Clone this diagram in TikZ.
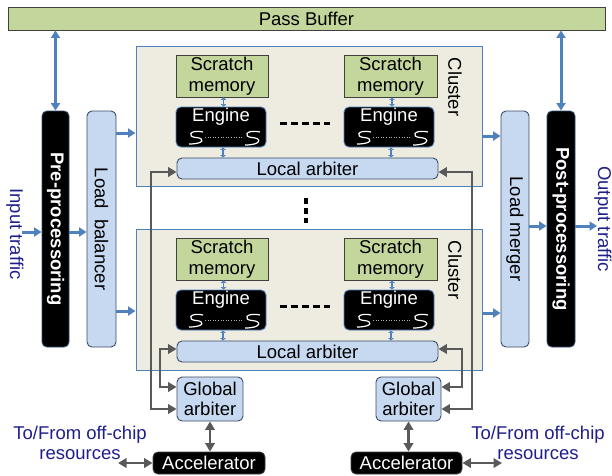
\documentclass[tikz,border=0pt]{standalone}
\usepackage{fontspec}
\usepackage{graphicx}
\setmainfont{Liberation Sans}
\usetikzlibrary{arrows.meta,calc}
\definecolor{gfill}{HTML}{C3D69B}
\definecolor{bfill}{HTML}{C6D9F1}
\definecolor{cfill}{HTML}{EEECE1}
\definecolor{bline}{HTML}{4F81BD}
\definecolor{gline}{HTML}{595959}
\definecolor{navy}{HTML}{1F1F8C}
\definecolor{edge}{HTML}{404040}
\definecolor{bedge}{HTML}{3C4B64}
\newcommand\enginesquig[1]{%
  \begin{scope}[shift={(#1)}]
    \draw[white, line width=1.2pt] (-18,5) .. controls (-32,2) and (-34,10) .. (-25,10.5) .. controls (-16,11) and (-16,17) .. (-32,17);
    \draw[white!70!black, line width=0.6pt, dotted] (-16,10.5) -- (23,10.5);
    \draw[white, line width=1.2pt] (39,5) .. controls (24,2) and (22,10) .. (31,10.5) .. controls (41,11) and (41,18) .. (24,18);
  \end{scope}}
\begin{document}
\begin{tikzpicture}[x=1pt,y=-1pt,
  font=\fontsize{18.5}{20.5}\selectfont,
  sized/.style 2 args={minimum width=#1pt, minimum height=#2pt},
  greenbox/.style={draw=edge, fill=gfill, line width=0.9pt, inner sep=0pt, align=center},
  bluebox/.style={draw=bedge, fill=bfill, rounded corners=5pt, line width=0.9pt, inner sep=0pt, align=center},
  blackbox/.style={draw=bline!60!black, fill=black, text=white, rounded corners=5pt, line width=0.9pt, inner sep=0pt, align=center},
  enginebox/.style={blackbox, draw=bline, text height=14pt, text depth=26pt},
  clusterbox/.style={draw=bline, fill=cfill, line width=1pt, inner sep=0pt},
  labeltext/.style={text=navy, align=center, inner sep=0pt},
  barrow/.style={draw=bline, line width=3pt, -{Triangle[length=7.5pt,width=9pt]}},
  bdarrow/.style={draw=bline, line width=3pt, {Triangle[length=7.5pt,width=9pt]}-{Triangle[length=7.5pt,width=9pt]}},
  sarrow/.style={draw=bline, line width=1.6pt, {Triangle[length=2.5pt,width=5.5pt]}-{Triangle[length=2.5pt,width=5.5pt]}},
  garrow/.style={draw=gline, line width=2.8pt, {Triangle[length=8.5pt,width=9.5pt]}-{Triangle[length=8.5pt,width=9.5pt]}}
]
\useasboundingbox (0,0) rectangle (612,475);

% top buffer
\node[greenbox, sized={597}{23}] (pass) at (306.5,18.5) {Pass Buffer};

% side columns
\node[blackbox, sized={27}{236}] (pre) at (55.5,229) {\rotatebox{-90}{\bfseries Pre-processoring}};
\node[bluebox, sized={29}{236}] (lb) at (101.5,229) {\rotatebox{-90}{Load\ \ balancer}};
\node[bluebox, sized={28}{236}] (lm) at (515,229) {\rotatebox{-90}{Load merger}};
\node[blackbox, sized={28}{236}] (post) at (561,229) {\rotatebox{-90}{\bfseries Post-processoring}};

% clusters
\node[clusterbox, sized={346}{140}] (cl1) at (309,116) {};
\node[clusterbox, sized={346}{141}] (cl2) at (309,299.5) {};
\node (cll1) at ($(cl1)+(146,-29)$) {\rotatebox{-90}{Cluster}};
\node (cll2) at ($(cl2)+(146,-29.5)$) {\rotatebox{-90}{Cluster}};

% cluster 1 content
\node[greenbox, sized={92}{42}] (sm11) at (222,76) {Scratch\\memory};
\node[greenbox, sized={93}{42}] (sm12) at (390.5,76) {Scratch\\memory};
\node[enginebox, sized={90}{40}] (en11) at (221,127) {Engine};
\node[enginebox, sized={90}{40}] (en12) at (389,127) {Engine};
\node[bluebox, sized={261}{21}] (la1) at (307.5,168.5) {Local arbiter};

% cluster 2 content
\node[greenbox, sized={92}{42}] (sm21) at (222,259) {Scratch\\memory};
\node[greenbox, sized={93}{42}] (sm22) at (390.5,259) {Scratch\\memory};
\node[enginebox, sized={90}{40}] (en21) at (221,310) {Engine};
\node[enginebox, sized={90}{40}] (en22) at (389,310) {Engine};
\node[bluebox, sized={261}{21}] (la2) at (307.5,351.5) {Local arbiter};

\enginesquig{en11}
\enginesquig{en12}
\enginesquig{en21}
\enginesquig{en22}

% dashes between engines
\draw[line width=3pt, dash pattern=on 6.6pt off 4.25pt] ($(en11.east)+(14,-4)$) -- ($(en12.west)+(-14,-4)$);
\draw[line width=3pt, dash pattern=on 6.6pt off 4.25pt] ($(en21.east)+(14,-4)$) -- ($(en22.west)+(-14,-4)$);
% vertical dots between clusters
\draw[line width=3.5pt, dash pattern=on 6pt off 4pt] ($(cl1.south)+(-3,11)$) -- ($(cl2.north)+(-3,-6)$);

% global arbiters and accelerators
\node[bluebox, sized={66}{44}] (ga1) at (210,399) {Global\\arbiter};
\node[bluebox, sized={65}{44}] (ga2) at (408.5,399) {Global\\arbiter};
\node[blackbox, draw=edge, sized={112}{22}] (acc1) at (209,463) {Accelerator};
\node[blackbox, draw=edge, sized={111}{22}] (acc2) at (406.5,463) {Accelerator};

% side texts
\node[labeltext] (intext) at (15,234) {\rotatebox{-90}{Input traffic}};
\node[labeltext] (outtext) at (603,219) {\rotatebox{-90}{Output traffic}};
\node[labeltext] (offl) at (80,443) {To/From off-chip\\resources};
\node[labeltext] (offr) at (538,443) {To/From off-chip\\resources};
\coordinate (in) at (22,232);
\coordinate (out) at (597,226);
\coordinate (offlc) at (118,463);
\coordinate (offrc) at (502,463);

% blue arrows
\draw[bdarrow] (pass.south -| pre.north) -- (pre.north);
\draw[bdarrow] (pass.south -| post.north) -- (post.north);
\draw[barrow] (in) -- (in -| pre.west);
\draw[barrow] (pre.east |- in) -- (lb.west |- in);
\draw[barrow] (lb.east |- 0,133) -- (cl1.west |- 0,133);
\draw[barrow] (lb.east |- 0,311) -- (cl2.west |- 0,311);
\draw[barrow] (cl1.east |- 0,136) -- (lm.west |- 0,136);
\draw[barrow] (cl2.east |- 0,313) -- (lm.west |- 0,313);
\draw[barrow] (lm.east |- out) -- (post.west |- out);
\draw[barrow] (post.east |- out) -- (out);

% small arrows inside clusters
\foreach \s/\e/\l in {sm11/en11/la1, sm12/en12/la1, sm21/en21/la2, sm22/en22/la2}{
  \draw[sarrow] ([xshift=1.5pt]\s.south) -- ([xshift=1.5pt]\s.south |- \e.north);
  \draw[sarrow] ([xshift=2pt]\e.south) -- ([xshift=2pt]\e.south |- \l.north);
}

% gray arbitration arrows
\draw[garrow] (la1.west |- 0,172) -- (151,172) -- (151,409) -- (ga1.west |- 0,409);
\draw[garrow] (la2.west |- 0,349) -- (160,349) -- (160,387) -- (ga1.west |- 0,387);
\draw[garrow] (la1.east |- 0,172) -- (472,172) -- (472,409) -- (ga2.east |- 0,409);
\draw[garrow] (la2.east |- 0,349) -- (462,349) -- (462,387) -- (ga2.east |- 0,387);
\draw[garrow] (ga1.south) -- (ga1.south |- acc1.north);
\draw[garrow] (ga2.south) -- (ga2.south |- acc2.north);
\draw[garrow] (offlc) -- (acc1.west);
\draw[garrow] (acc2.east) -- (offrc);
\end{tikzpicture}
\end{document}
